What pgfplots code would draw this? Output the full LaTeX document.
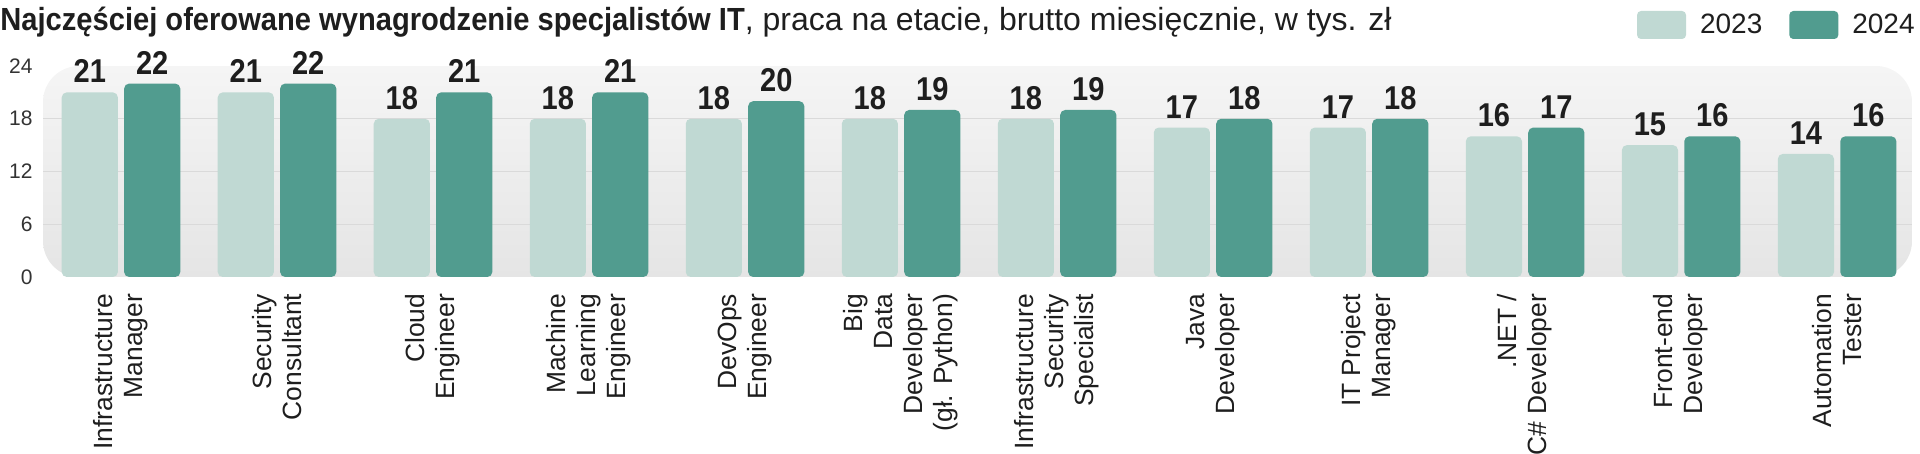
\documentclass[border=0pt]{standalone}
\usepackage{fontspec}
\setmainfont{Liberation Sans}
\usepackage{graphicx}
\usepackage{pgfplots}
\pgfplotsset{compat=1.18}
\definecolor{c23}{HTML}{C0D9D3}
\definecolor{c24}{HTML}{519C8F}
\definecolor{txt}{HTML}{1E1E1E}
\definecolor{tick}{HTML}{333333}
\definecolor{gridc}{HTML}{DADADA}
\definecolor{bgtop}{HTML}{F5F5F5}
\definecolor{bgbot}{HTML}{E5E5E5}
\begin{document}
\begin{tikzpicture}
\begin{axis}[
  name=ax, at={(0pt,0pt)}, anchor=south west,
  width=934.5pt, height=105.5pt, scale only axis,
  xmin=-0.5, xmax=11.48, ymin=0, ymax=24,
  axis line style={draw=none},
  major tick style={draw=none}, minor tick style={draw=none},
  ytick={0,6,12,18,24},
  extra y ticks={6,12,18}, extra y tick labels={},
  extra y tick style={grid=major, major grid style={draw=gridc, line width=0.7pt}},
  xtick={0,1,2,3,4,5,6,7,8,9,10,11},
  xticklabels={{Infrastructure\\Manager},{Security\\Consultant},{Cloud\\Engineer},{Machine\\Learning\\Engineer},{DevOps\\Engineer},{Big\\Data\\Developer\\(gł. Python)},{Infrastructure\\Security\\Specialist},{Java\\Developer},{IT Project\\Manager},{.NET /\\C\# Developer},{Front-end\\Developer},{Automation\\Tester}},
  xticklabel style={rotate=90, anchor=east, align=right, inner sep=0pt, font=\fontsize{13.2}{15}\selectfont, text=txt},
  xticklabel shift=4pt,
  yticklabel style={font=\fontsize{10.5}{12}\selectfont, text=tick, inner sep=0pt, anchor=east},
  yticklabel shift=5pt,
  /pgf/number format/assume math mode=true,
  axis background/.style={top color=bgtop, bottom color=bgbot, rounded corners=18pt},
  ybar, bar width=0.36,
  clip=false,
  nodes near coords={\scalebox{0.88}[1]{\pgfmathprintnumber\pgfplotspointmeta}},
  every node near coord/.append style={font=\bfseries\fontsize{16.5}{16.5}\selectfont, text=txt, inner sep=0pt, anchor=south, yshift=4.5pt},
  legend style={at={(1,1)}, anchor=east, yshift=20.5pt, xshift=1.5pt, draw=none, fill=none, inner sep=0pt,
    nodes={inner sep=0pt}, font=\fontsize{14}{16}\selectfont, text=txt,
    /tikz/every even column/.append style={column sep=13.5pt},
    /tikz/every odd column/.append style={column sep=7pt}},
  legend columns=-1,
]
\addplot[fill=c23, draw=none, rounded corners=2.5pt, bar shift=-0.2,
  legend image code/.code={\fill[c23, rounded corners=2pt] (0pt,-7pt) rectangle (24.5pt,7pt);}]
  coordinates {(0,21) (1,21) (2,18) (3,18) (4,18) (5,18) (6,18) (7,17) (8,17) (9,16) (10,15) (11,14)};
\addlegendentry{2023}
\addplot[fill=c24, draw=none, rounded corners=2.5pt, bar shift=0.2,
  legend image code/.code={\fill[c24, rounded corners=2pt] (0pt,-7pt) rectangle (24.5pt,7pt);}]
  coordinates {(0,22) (1,22) (2,21) (3,21) (4,20) (5,19) (6,19) (7,18) (8,18) (9,17) (10,16) (11,16)};
\addlegendentry{2024}
\end{axis}
\node[anchor=base west, inner sep=0pt, text=txt] at ([xshift=-21.5pt, yshift=17.5pt]ax.north west) {\fontsize{16}{18}\selectfont\scalebox{0.91}[1]{\bfseries Najczęściej oferowane wynagrodzenie specjalistów IT}, praca na etacie, brutto miesięcznie, w tys. zł};
\pgfresetboundingbox
\useasboundingbox ([xshift=-21.5pt,yshift=-88.5pt]ax.south west) rectangle ([xshift=4pt,yshift=33pt]ax.north east);
\end{tikzpicture}
\end{document}
